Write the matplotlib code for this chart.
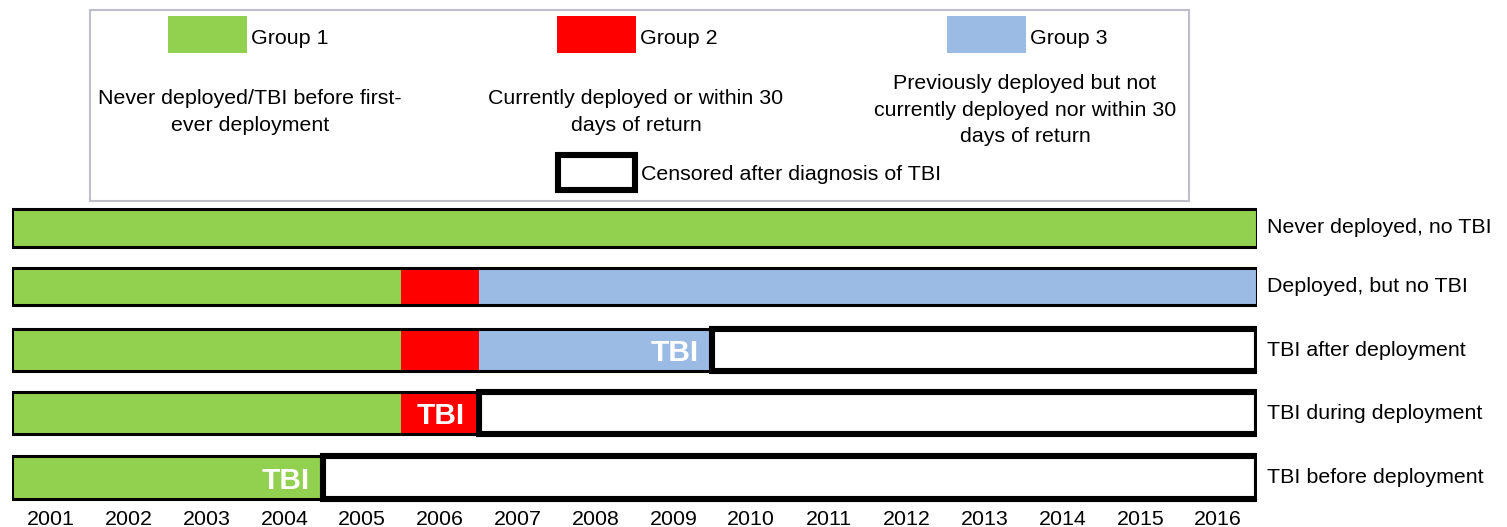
import matplotlib
matplotlib.use("Agg")
import matplotlib.pyplot as plt
from matplotlib.patches import Rectangle

plt.rcParams['font.family'] = ['Liberation Sans', 'DejaVu Sans']

# ---------------- data ----------------
years = list(range(2001, 2017))
follow_start = 2000.5
follow_end = 2016.5

row_labels = ["Never deployed, no TBI", "Deployed, but no TBI",
              "TBI after deployment", "TBI during deployment",
              "TBI before deployment"]
# group membership of consecutive segments per row, and segment end times
seg_groups = [[1], [1, 2, 3], [1, 2, 3], [1, 2], [1]]
seg_ends = [[2016.5], [2005.5, 2006.5, 2016.5], [2005.5, 2006.5, 2009.5],
            [2005.5, 2006.5], [2004.5]]
# time of TBI diagnosis (censoring) per row, None = no TBI
tbi_time = [None, None, 2009.5, 2006.5, 2004.5]

group_names = ["Group 1", "Group 2", "Group 3"]
group_desc = ["Never deployed/TBI before first-\never deployment",
              "Currently deployed or within 30\ndays of return",
              "Previously deployed but not\ncurrently deployed nor within 30\ndays of return"]
censor_label = "Censored after diagnosis of TBI"

# ---------------- style ----------------
colors = {1: '#92D050', 2: '#FF0000', 3: '#9BBBE5'}
FS = 15.4
W, H = 1507, 527
fig = plt.figure(figsize=(W / 100, H / 100), dpi=100)

# bars axes (placed in pixel layout)
x0_px, x1_px = 12, 1257
top_px, bot_px = 196.8, 508.7
ax = fig.add_axes([x0_px / W, (H - bot_px) / H, (x1_px - x0_px) / W, (bot_px - top_px) / H])
ax.set_xlim(follow_start, follow_end)
ax.set_ylim(len(row_labels) - 0.5, -0.5)
for s in ax.spines.values():
    s.set_visible(False)
ax.set_yticks([])
ax.set_xticks(years)
ax.set_xticklabels([str(y) for y in years], fontsize=FS)
ax.tick_params(axis='x', length=0, pad=1.2)

row_pos = [0, 0.94, 1.96, 2.97, 4]
bar_h = [0.60, 0.60, 0.68, 0.68, 0.68]
thin = 2.2
thick = 4.4
for i, lab in enumerate(row_labels):
    h = bar_h[i]
    y = row_pos[i]
    start = follow_start
    for g, e in zip(seg_groups[i], seg_ends[i]):
        ax.add_patch(Rectangle((start, y - h / 2), e - start, h,
                               facecolor=colors[g], edgecolor='none', zorder=2))
        start = e
    colored_end = seg_ends[i][-1]
    ax.add_patch(Rectangle((follow_start, y - h / 2), colored_end - follow_start, h,
                           facecolor='none', edgecolor='black', lw=thin, zorder=3))
    if tbi_time[i] is not None:
        t = tbi_time[i]
        ax.add_patch(Rectangle((t, y - h / 2), follow_end - t, h,
                               facecolor='white', edgecolor='black', lw=thick, zorder=4,
                               joinstyle='miter'))
        ax.annotate("TBI", xy=(t, y), xytext=(-10, -8), textcoords='offset points',
                    ha='right', va='baseline', color='white', fontsize=21.5,
                    fontweight='bold', zorder=5)
    ax.annotate(lab, xy=(follow_end, y), xytext=(7, 0), textcoords='offset points',
                ha='left', va='center', fontsize=FS, annotation_clip=False)

# legend overlay (pixel coordinates)
lg = fig.add_axes([0, 0, 1, 1])
lg.set_xlim(0, W)
lg.set_ylim(H, 0)
lg.axis('off')
lg.patch.set_alpha(0)
lg.add_patch(Rectangle((90, 10), 1099, 191, facecolor='none', edgecolor='#BFBFCB', lw=1.5))

patch_x = [168, 557, 947]
desc_x = [250, 636, 1025]
desc_y = [112, 112, 110]
for k in range(3):
    lg.add_patch(Rectangle((patch_x[k], 16), 79, 37, facecolor=colors[k + 1], edgecolor='none'))
    lg.text(patch_x[k] + 83, 38.5, group_names[k], ha='left', va='center', fontsize=FS)
    lg.text(desc_x[k], desc_y[k], group_desc[k], ha='center', va='center', fontsize=FS,
            linespacing=1.48)
lg.add_patch(Rectangle((558, 155), 77, 35, facecolor='white', edgecolor='black', lw=4.4,
                       joinstyle='miter'))
lg.text(641, 174, censor_label, ha='left', va='center', fontsize=FS)

fig.savefig("out.png", dpi=100)
